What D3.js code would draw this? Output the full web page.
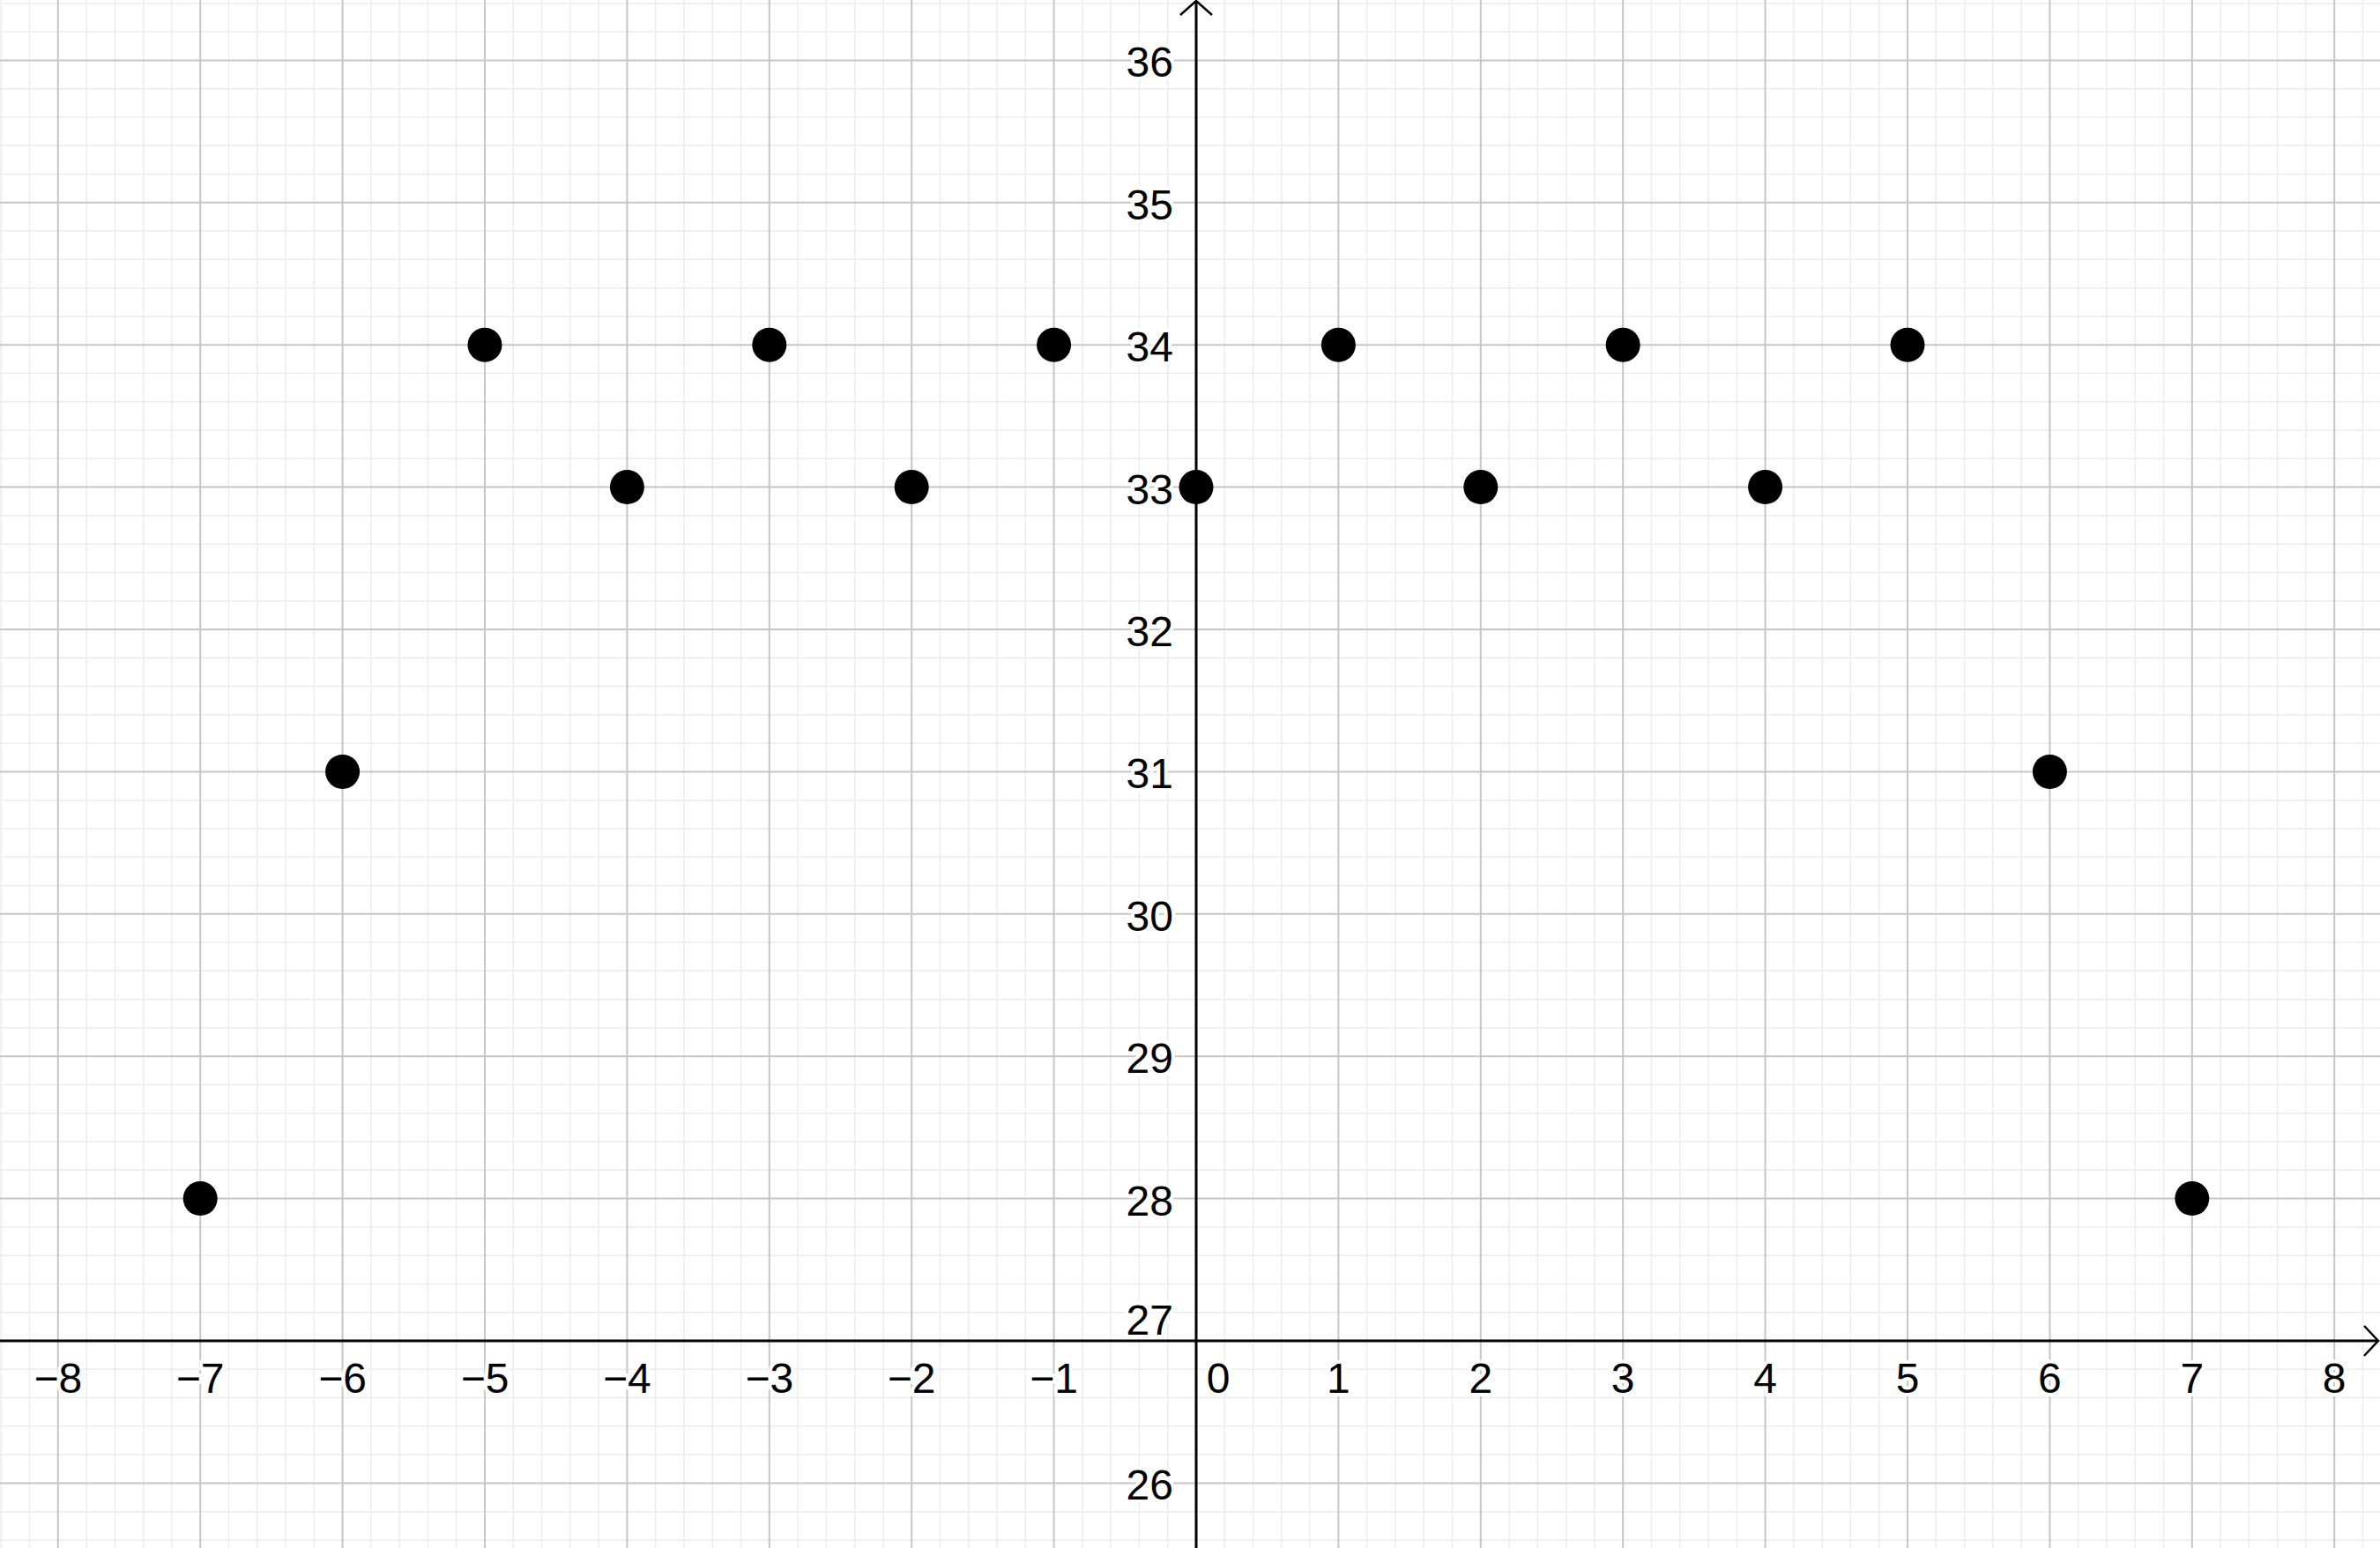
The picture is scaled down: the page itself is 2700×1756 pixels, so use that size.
<!DOCTYPE html>
<html><head><meta charset="utf-8">
<script src="https://cdn.jsdelivr.net/npm/d3@7"></script>
<style>html,body{margin:0;padding:0;background:#fff;overflow:hidden}</style>
</head><body>
<svg id="c" width="2700" height="1756"></svg>
<script>
const xValues = [-7,-6,-5,-4,-3,-2,-1,0,1,2,3,4,5,6,7];
const yValues = [28,31,34,33,34,33,34,33,34,33,34,33,34,31,28];
const xTickLabels = [-8,-7,-6,-5,-4,-3,-2,-1,0,1,2,3,4,5,6,7,8];
const yTickLabels = [26,27,28,29,30,31,32,33,34,35,36];

const W = 2700, H = 1756;
const unit = 161.4, x0 = 1357, y27 = 1521;
const x = d3.scaleLinear().domain([-x0/unit, (W-x0)/unit]).range([0, W]);
const y = d3.scaleLinear().domain([27 - (H-y27)/unit, 27 + y27/unit]).range([H, 0]);
const svg = d3.select("#c");

// minor grid
const minorX = d3.range(Math.ceil(x.domain()[0]*5), Math.floor(x.domain()[1]*5)+1).map(v=>v/5).filter(v=>Math.abs(v-Math.round(v))>1e-6);
const minorY = d3.range(Math.ceil(y.domain()[0]*5), Math.floor(y.domain()[1]*5)+1).map(v=>v/5).filter(v=>Math.abs(v-Math.round(v))>1e-6);
const g = svg.append("g");
g.selectAll(".mx").data(minorX).join("line").attr("x1",d=>x(d)).attr("x2",d=>x(d)).attr("y1",0).attr("y2",H).attr("stroke","#ececec").attr("stroke-width",1.5);
g.selectAll(".my").data(minorY).join("line").attr("y1",d=>y(d)).attr("y2",d=>y(d)).attr("x1",0).attr("x2",W).attr("stroke","#ececec").attr("stroke-width",1.5);
const majorX = d3.range(Math.ceil(x.domain()[0]), Math.floor(x.domain()[1])+1);
const majorY = d3.range(Math.ceil(y.domain()[0]), Math.floor(y.domain()[1])+1);
g.selectAll(".Mx").data(majorX).join("line").attr("x1",d=>x(d)).attr("x2",d=>x(d)).attr("y1",0).attr("y2",H).attr("stroke","#c6c6c6").attr("stroke-width",2);
g.selectAll(".My").data(majorY).join("line").attr("y1",d=>y(d)).attr("y2",d=>y(d)).attr("x1",0).attr("x2",W).attr("stroke","#c6c6c6").attr("stroke-width",2);

// axes
const ax = svg.append("g").attr("stroke","#000").attr("stroke-width",3).attr("fill","none");
ax.append("line").attr("x1",0).attr("x2",W-2).attr("y1",y(27)).attr("y2",y(27));
ax.append("line").attr("x1",x(0)).attr("x2",x(0)).attr("y1",H).attr("y2",1);
ax.append("path").attr("d",`M${W-18},${y(27)-17} L${W-2},${y(27)} L${W-18},${y(27)+17}`).attr("stroke-width",2.5);
ax.append("path").attr("d",`M${x(0)-18},17 L${x(0)},1 L${x(0)+18},17`).attr("stroke-width",2.5);

// labels
const font = "'Liberation Sans', Arial, sans-serif";
svg.append("g").selectAll("text").data(xTickLabels).join("text")
  .attr("x",d=> d===0 ? x(0)+25 : x(d))
  .attr("y",y(27)+59)
  .attr("text-anchor","middle")
  .attr("font-family",font).attr("font-size",48).attr("fill","#000")
  .attr("stroke","#fff").attr("stroke-width",8).attr("paint-order","stroke")
  .text(d=> d<0 ? "\u2212"+Math.abs(d) : String(d));
svg.append("g").selectAll("text").data(yTickLabels).join("text")
  .attr("x",x(0)-26)
  .attr("y",d=> d===27 ? y(27)-7 : y(d)+19)
  .attr("text-anchor","end")
  .attr("font-family",font).attr("font-size",48).attr("fill","#000")
  .attr("stroke","#fff").attr("stroke-width",8).attr("paint-order","stroke")
  .text(d=>String(d));

// points
svg.append("g").selectAll("circle").data(xValues.map((v,i)=>[v,yValues[i]])).join("circle")
  .attr("cx",d=>x(d[0])).attr("cy",d=>y(d[1])).attr("r",19.5).attr("fill","#000");
</script>
</body></html>
